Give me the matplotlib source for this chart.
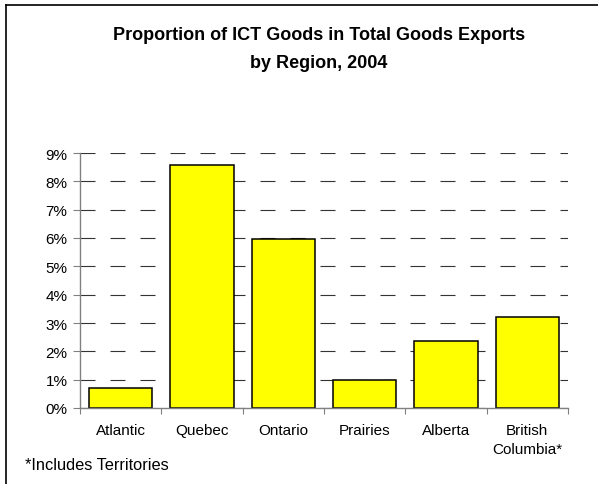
import matplotlib.pyplot as plt
from matplotlib.ticker import FuncFormatter, FixedLocator
from matplotlib.lines import Line2D

plt.rcParams['font.family'] = ['Liberation Sans', 'DejaVu Sans']

# ICT goods share of total goods exports, 2004
regions = ["Atlantic", "Quebec", "Ontario", "Prairies", "Alberta", "British\nColumbia*"]
ict_share = [0.0071, 0.0856, 0.0595, 0.0100, 0.0235, 0.0320]
y_ticks = [0.00, 0.01, 0.02, 0.03, 0.04, 0.05, 0.06, 0.07, 0.08, 0.09]

fig = plt.figure(figsize=(5.98, 4.85), dpi=100)
ax = fig.add_axes([80 / 598, 76 / 485, 488 / 598, 255 / 485])

x = range(len(regions))
ax.bar(x, ict_share, width=0.775, color="#ffff00", edgecolor="black",
       linewidth=1.1, zorder=3)

ax.set_xlim(-0.5, len(regions) - 0.5)
ax.set_ylim(0, 0.09)
ax.set_yticks(y_ticks)
ax.yaxis.set_major_formatter(FuncFormatter(lambda v, p: f"{v * 100:.0f}%"))

# category boundaries get the tick marks, names sit in between
ax.xaxis.set_major_locator(FixedLocator([i - 0.5 for i in range(len(regions) + 1)]))
ax.xaxis.set_minor_locator(FixedLocator(list(x)))
ax.set_xticklabels([], minor=False)
ax.set_xticklabels(regions, minor=True, linespacing=1.4)
ax.tick_params(axis="x", which="major", direction="out", length=4, width=0.8,
               color="#808080")
ax.tick_params(axis="x", which="minor", length=0, pad=11, labelsize=11)
ax.tick_params(axis="y", direction="out", length=5, width=0.8, color="#808080",
               pad=4, labelsize=11)

ax.yaxis.grid(True, color="#333333", linewidth=0.8, linestyle=(0, (13.5, 13.5)),
              zorder=1)
for side in ["top", "right"]:
    ax.spines[side].set_visible(False)
for side in ["left", "bottom"]:
    ax.spines[side].set_color("#808080")
    ax.spines[side].set_linewidth(1.0)
    ax.spines[side].set_zorder(4)

fig.text(319 / 598, 1 - 40 / 485, "Proportion of ICT Goods in Total Goods Exports",
         ha="center", va="baseline", fontsize=13, fontweight="bold")
fig.text(319 / 598, 1 - 68 / 485, "by Region, 2004",
         ha="center", va="baseline", fontsize=13, fontweight="bold")
fig.text(25 / 598, 1 - 470 / 485, "*Includes Territories",
         ha="left", va="baseline", fontsize=11.8)

# outer frame of the chart area
fig.add_artist(Line2D([6 / 598, 1], [1 - 6 / 485, 1 - 6 / 485],
                      transform=fig.transFigure, color="black", linewidth=1.2))
fig.add_artist(Line2D([6 / 598, 6 / 598], [0, 1 - 6 / 485],
                      transform=fig.transFigure, color="black", linewidth=1.2))

fig.savefig("out.png", dpi=100)
